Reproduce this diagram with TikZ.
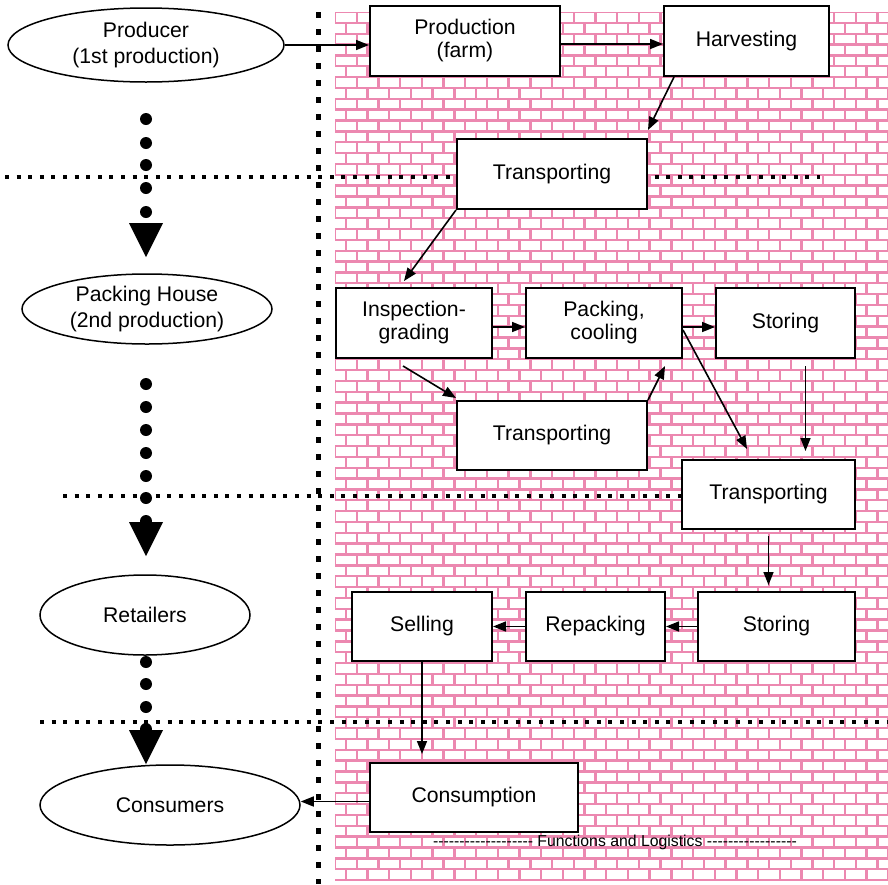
\documentclass[tikz,border=0pt]{standalone}
\usepackage{fontspec}
\setmainfont{Liberation Sans}
\usetikzlibrary{arrows.meta,shapes.geometric}
\definecolor{brickpink}{RGB}{236,136,176}
\newcommand\dashrun[1]{\makebox[#1]{\xleaders\hbox{-}\hfill}}

\begin{document}
\begin{tikzpicture}[x=0.5pt,y=-0.5pt,
  stagebox/.style={draw,line width=1pt,fill=white,rectangle,minimum height=35pt,inner sep=1pt,align=center,font=\fontsize{10.6}{11.5}\selectfont},
  actor/.style={draw,line width=0.75pt,fill=white,ellipse,inner sep=0pt,align=center,font=\fontsize{10.6}{13}\selectfont},
  arr/.style={line width=0.8pt,-{Triangle[length=6.5pt,width=5pt]}},
  brick/.style={brickpink,line width=1.2pt},
  bigdots/.style={line width=2.5pt,dash pattern=on 3pt off 5.5pt},
  smalldots/.style={line width=2pt,dash pattern=on 2pt off 3.8pt}]
\useasboundingbox (0,0) rectangle (888,884);
\fill[white] (0,0) rectangle (888,884);

% brick wall behind the functions
\begin{scope}
\clip (335,12) rectangle (888,880);
\foreach \r in {0,...,79} {
  \pgfmathsetmacro\yy{12+\r*10.85}
  \pgfmathsetmacro\off{mod(\r,2)*10.85}
  \draw[brick] (335,\yy) -- (888,\yy);
  \foreach \c in {0,...,25}
    \draw[brick] (335+\off+\c*21.7,\yy) -- ++(0,10.85);
}
\draw[brick] (335,880) -- (888,880);
\end{scope}

% dotted separators
\draw[bigdots] (318,12) -- (318,884);
\draw[smalldots] (5,177) -- (820,177);
\draw[smalldots] (63,496) -- (683,496);
\draw[smalldots] (40,722) -- (888,722);

% actors
\node[actor,minimum width=138pt,minimum height=37pt] (producer) at (146,45) {Producer\\(1st production)};
\node[actor,minimum width=125pt,minimum height=35pt] (packhouse) at (147,309) {Packing House\\(2nd production)};
\node[actor,minimum width=105pt,minimum height=40pt] (retailers) at (145,615) {Retailers};
\node[actor,minimum width=130pt,minimum height=40pt] (consumers) at (170,805) {Consumers};

% functions
\node[stagebox,minimum width=95pt] (prod) at (465,41) {Production\\(farm)};
\node[stagebox,minimum width=82.5pt] (harv) at (746.5,41) {Harvesting};
\node[stagebox,minimum width=95pt] (trans1) at (552,174) {Transporting};
\node[stagebox,minimum width=78pt] (insp) at (414,323) {Inspection-\\grading};
\node[stagebox,minimum width=78pt] (pack) at (604,323) {Packing,\\cooling};
\node[stagebox,minimum width=69.5pt] (stor1) at (785.5,323) {Storing};
\node[stagebox,minimum width=95pt,minimum height=34.5pt] (trans2) at (552,435.5) {Transporting};
\node[stagebox,minimum width=86.5pt,minimum height=34.5pt] (trans3) at (768.5,494.5) {Transporting};
\node[stagebox,minimum width=78.5pt,minimum height=34.5pt] (stor2) at (776.5,626.5) {Storing};
\node[stagebox,minimum width=69.5pt,minimum height=34.5pt] (repack) at (595.5,626.5) {Repacking};
\node[stagebox,minimum width=70pt,minimum height=34.5pt] (sell) at (422,626.5) {Selling};
\node[stagebox,minimum width=104pt,minimum height=34.5pt] (cons) at (474,797.5) {Consumption};

% flow
\draw[arr] (producer.east) -- (producer.east -| prod.west);
\draw[arr] ([yshift=-1.5pt]prod.east) -- ([yshift=-1.5pt]harv.west);
\draw[arr] ([xshift=5.5pt]harv.south west) -- ([yshift=4pt]trans1.north east);
\draw[arr] (trans1.south west) -- ([xshift=34.5pt,yshift=3pt]insp.north west);
\draw[arr] ([yshift=-2pt]insp.east) -- ([yshift=-2pt]pack.west);
\draw[arr] ([xshift=34pt,yshift=-3.5pt]insp.south west) -- ([yshift=1pt]trans2.north west);
\draw[arr] (trans2.north east) -- ([xshift=-9pt,yshift=-3.5pt]pack.south east);
\draw[arr] ([yshift=-2pt]pack.east) -- ([yshift=-2pt]stor1.west);
\draw[arr] ([yshift=-3.5pt]pack.east) -- ([xshift=33pt,yshift=5pt]trans3.north west);
\draw[arr,shorten <=3.5pt,shorten >=4pt] ([xshift=10pt]stor1.south) -- ([xshift=10pt]stor1.south |- trans3.north);
\draw[arr,shorten <=3pt,shorten >=3pt] (trans3.south) -- (trans3.south |- stor2.north);
\draw[arr] (stor2.west) -- (repack.east);
\draw[arr] (repack.west) -- (sell.east);
\draw[arr,shorten >=4pt] (sell.south) -- (sell.south |- cons.north);
\draw[arr] ([yshift=-2pt]cons.west) -- ([yshift=-2pt]cons.west -| consumers.east);

% stage markers
\foreach \y in {119,143,165,188,212}
  \fill (146,\y) circle[radius=3pt];
\fill (129,223) -- (163,223) -- (146,257) -- cycle;
\foreach \y in {384,407,430,453,476,498,521}
  \fill (146,\y) circle[radius=3pt];
\fill (129,522) -- (163,522) -- (146,556) -- cycle;
\foreach \y in {662,684,707,729}
  \fill (146,\y) circle[radius=3pt];
\fill (129,730) -- (163,730) -- (146,764) -- cycle;

\node[font=\fontsize{7.9}{9}\selectfont,inner sep=0pt] (funclabel) at (615,842) {\dashrun{50pt} Functions and Logistics \dashrun{45pt}};
\end{tikzpicture}
\end{document}
